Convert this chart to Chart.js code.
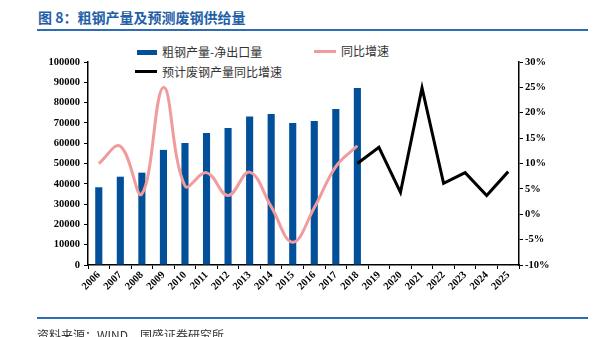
<!DOCTYPE html>
<html>
<head>
<meta charset="utf-8">
<script src="https://cdn.jsdelivr.net/npm/chart.js@4"></script>
<style>
  body { margin: 0; background: #fff; }
  #wrap { position: relative; width: 601px; height: 337px; overflow: hidden; font-family: "Noto Sans CJK SC", sans-serif; }
  #chart { position: absolute; left: 0; top: 0; }
  .title { position: absolute; left: 38px; top: 7px; font-size: 14px; font-weight: bold; color: #1F5FA8; white-space: nowrap; }
  .rule { position: absolute; left: 37px; width: 551px; height: 2px; background: #2E6DB4; }
  .source { position: absolute; left: 37px; top: 326px; font-size: 12px; color: #333; white-space: nowrap; }
  .lg { position: absolute; font-size: 12px; color: #333; white-space: nowrap; line-height: 14px; }
  .mk { position: absolute; }
</style>
</head>
<body>
<div id="wrap">
  <div class="title">图 8：粗钢产量及预测废钢供给量</div>
  <div class="rule" style="top:29px"></div>
  <div class="mk" style="left:137px;top:50px;width:20px;height:5px;background:#02509A"></div>
  <div class="lg" style="left:162px;top:45px">粗钢产量-净出口量</div>
  <div class="mk" style="left:314px;top:50px;width:22px;height:3px;background:#F19C9C"></div>
  <div class="lg" style="left:341px;top:44px">同比增速</div>
  <div class="mk" style="left:135px;top:70px;width:22px;height:3px;background:#000"></div>
  <div class="lg" style="left:162px;top:65px">预计废钢产量同比增速</div>
  <canvas id="chart" width="601" height="337"></canvas>
  <div class="rule" style="top:317px"></div>
  <div class="source">资料来源：WIND，国盛证券研究所</div>
</div>
<script>
const years = ['2006', '2007', '2008', '2009', '2010', '2011', '2012', '2013', '2014', '2015',
               '2016', '2017', '2018', '2019', '2020', '2021', '2022', '2023', '2024', '2025']

// 粗钢产量-净出口量 (万吨), 2006-2018
const steelNet = [38300, 43500, 45500, 56700, 60100, 65000, 67500, 73200, 74400, 70000,
                  70900, 76800, 87200]

// 同比增速 (%), 2006-2018
const steelGrowth = [10.0, 13.4, 4.0, 25.0, 5.6, 8.2, 3.7, 8.3, 1.5, -5.5,
                     1.3, 9.4, 13.5]

// 预计废钢产量同比增速 (%), 2018-2025
const scrapGrowth = [10.0, 13.2, 4.3, 24.9, 6.1, 8.2, 3.7, 8.4]

const yTicks  = { min: 0, max: 100000, step: 10000 }
const y1Ticks = { min: -10, max: 30, step: 5 }

const pad = (arr, before, total) => {
  const out = Array(before).fill(null).concat(arr)
  while (out.length < total) out.push(null)
  return out
}

const tickFont = { family: '"Liberation Serif", "Times New Roman", serif', size: 10.5, weight: 'bold' }

const ctx = document.getElementById('chart').getContext('2d')

new Chart(ctx, {
  type: 'bar',
  data: {
    labels: years,
    datasets: [
      {
        type: 'line',
        label: '同比增速',
        data: pad(steelGrowth, 0, years.length),
        yAxisID: 'y1',
        borderColor: '#F19C9C',
        borderWidth: 3,
        tension: 0.4,
        pointRadius: 0,
        fill: false,
        order: 1
      },
      {
        type: 'line',
        label: '预计废钢产量同比增速',
        data: pad(scrapGrowth, 12, years.length),
        yAxisID: 'y1',
        borderColor: '#000000',
        borderWidth: 3,
        tension: 0,
        pointRadius: 0,
        fill: false,
        order: 1
      },
      {
        label: '粗钢产量-净出口量',
        data: pad(steelNet, 0, years.length),
        yAxisID: 'y',
        backgroundColor: '#02509A',
        categoryPercentage: 1,
        barPercentage: 0.33,
        order: 2
      }
    ]
  },
  options: {
    responsive: false,
    animation: false,
    layout: { padding: { top: 62, left: 0, right: 0, bottom: 0 } },
    plugins: {
      legend: { display: false },
      tooltip: { enabled: false }
    },
    scales: {
      x: {
        grid: { drawOnChartArea: false, drawTicks: true, tickLength: 4, color: '#000' },
        border: { display: true, color: '#000', width: 1.5 },
        ticks: { color: '#000', font: tickFont, maxRotation: 45, minRotation: 45, autoSkip: false, padding: 0 },
        afterFit: (scale) => { scale.height = 72 }
      },
      y: {
        position: 'left',
        min: yTicks.min,
        max: yTicks.max,
        grid: { drawOnChartArea: false, drawTicks: true, tickLength: 4, color: '#000' },
        border: { display: true, color: '#000', width: 1.5 },
        ticks: { stepSize: yTicks.step, color: '#000', font: tickFont, padding: 4,
                 callback: (v) => String(v) },
        afterFit: (scale) => { scale.width = 88 }
      },
      y1: {
        position: 'right',
        min: y1Ticks.min,
        max: y1Ticks.max,
        grid: { drawOnChartArea: false, drawTicks: true, tickLength: 4, color: '#000' },
        border: { display: true, color: '#000', width: 1.5 },
        ticks: { stepSize: y1Ticks.step, color: '#000', font: tickFont, padding: 2,
                 callback: (v) => v + '%' },
        afterFit: (scale) => { scale.width = 82 }
      }
    }
  }
})
</script>
</body>
</html>
